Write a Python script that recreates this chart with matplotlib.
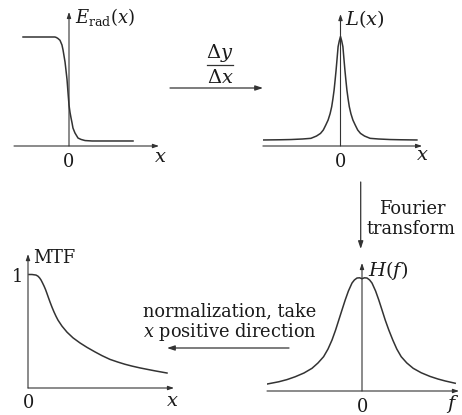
import matplotlib
matplotlib.use('Agg')
import matplotlib.pyplot as plt

plt.rcParams['font.family'] = ['DejaVu Serif']
plt.rcParams['mathtext.fontset'] = 'dejavuserif'

W, H = 462, 415
LINE = '#333333'
TEXT = '#1a1a1a'

# edge response (step)
esf_x = [-2.09, -1.32, -0.64, -0.57, -0.50, -0.41, -0.32, -0.27, -0.18, -0.14, -0.09, -0.045,
         0.0, 0.045, 0.09, 0.14, 0.18, 0.27, 0.41, 0.55, 0.73, 1.05, 2.91]
esf_y = [1.0, 1.0, 1.0, 0.995, 0.986, 0.97, 0.927, 0.88, 0.77, 0.70, 0.61, 0.49,
         0.376, 0.31, 0.26, 0.21, 0.165, 0.12, 0.073, 0.06, 0.05, 0.046, 0.046]

# line spread function
lsf_x = [-1.94, -1.5, -1.24, -0.95, -0.74, -0.60, -0.50, -0.43, -0.37, -0.31, -0.26,
         -0.22, -0.19, -0.16, -0.135, -0.11, -0.085, -0.06, -0.03, 0.0,
         0.03, 0.06, 0.085, 0.11, 0.135, 0.16, 0.19, 0.22, 0.26, 0.31,
         0.37, 0.43, 0.50, 0.60, 0.74, 0.95, 1.24, 1.5, 1.91]
lsf_y = [0.055, 0.057, 0.059, 0.064, 0.07, 0.091, 0.115, 0.146, 0.19, 0.237, 0.295,
         0.359, 0.43, 0.511, 0.60, 0.694, 0.80, 0.907, 0.96, 1.0,
         0.96, 0.907, 0.80, 0.694, 0.60, 0.511, 0.43, 0.359, 0.295, 0.237,
         0.19, 0.146, 0.115, 0.091, 0.07, 0.064, 0.059, 0.057, 0.055]

# transfer function H(f)
hf_x = [-2.375, -2.08, -1.875, -1.67, -1.45, -1.25, -1.10, -0.96, -0.85, -0.75, -0.66,
        -0.58, -0.50, -0.42, -0.34, -0.25, -0.19, -0.125, -0.06, 0.0,
        0.06, 0.125, 0.19, 0.25, 0.34, 0.42, 0.50, 0.58, 0.67, 0.77,
        0.87, 0.98, 1.12, 1.28, 1.48, 1.70, 1.90, 2.08, 2.33]
hf_y = [0.061, 0.081, 0.10, 0.125, 0.158, 0.199, 0.246, 0.301, 0.368, 0.447, 0.535,
        0.623, 0.711, 0.798, 0.877, 0.947, 0.974, 0.991, 0.993, 0.985,
        0.993, 0.991, 0.974, 0.947, 0.877, 0.798, 0.711, 0.623, 0.535, 0.447,
        0.368, 0.301, 0.246, 0.199, 0.16, 0.128, 0.105, 0.088, 0.068]

# normalized MTF, positive side
mtf_x = [0.025, 0.10, 0.20, 0.25, 0.29, 0.325, 0.36, 0.40, 0.44, 0.475, 0.51, 0.55,
         0.60, 0.65, 0.70, 0.75, 0.85, 0.975, 1.125, 1.30, 1.475, 1.675, 1.85,
         2.05, 2.25, 2.425, 2.60, 2.80, 3.00, 3.175, 3.475]
mtf_y = [1.0, 1.0, 0.995, 0.985, 0.97, 0.952, 0.928, 0.899, 0.866, 0.832, 0.797, 0.758,
         0.712, 0.670, 0.632, 0.598, 0.545, 0.492, 0.442, 0.397, 0.358, 0.318, 0.285,
         0.252, 0.228, 0.209, 0.193, 0.177, 0.163, 0.151, 0.132]

fig = plt.figure(figsize=(W / 100, H / 100), dpi=100)
fig.patch.set_facecolor('white')


def panel(ox, oy, sx, sy, xr, yr):
    # ox, oy: pixel position of the origin, sx, sy: pixels per data unit
    x0 = ox + xr[0] * sx
    x1 = ox + xr[1] * sx
    ytop = oy - yr[1] * sy
    ybot = oy - yr[0] * sy
    ax = fig.add_axes([x0 / W, 1 - ybot / H, (x1 - x0) / W, (ybot - ytop) / H])
    ax.set_xlim(xr)
    ax.set_ylim(yr)
    ax.axis('off')
    return ax


def axis_arrows(ax, xr, ytop):
    head = '-|>,head_length=0.35,head_width=0.12'
    ax.annotate('', xy=(xr[1], 0), xytext=(xr[0], 0),
                arrowprops=dict(arrowstyle=head, color=LINE, lw=0.8, shrinkA=0, shrinkB=0))
    ax.annotate('', xy=(0, ytop), xytext=(0, 0),
                arrowprops=dict(arrowstyle=head, color=LINE, lw=0.8, shrinkA=0, shrinkB=0))


# panels
ax1 = panel(69, 146, 22, 109, (-2.5, 4.09), (0, 1.23))
axis_arrows(ax1, (-2.5, 4.09), 1.23)
ax1.plot(esf_x, esf_y, color=LINE, lw=1.1, solid_joinstyle='round')

ax2 = panel(340.5, 146, 40, 109.5, (-1.94, 2.04), (0, 1.205))
axis_arrows(ax2, (-1.94, 2.04), 1.205)
ax2.plot(lsf_x, lsf_y, color=LINE, lw=1.1, solid_joinstyle='round')

ax3 = panel(28, 388, 40, 113.5, (0, 3.65), (0, 1.18))
axis_arrows(ax3, (0, 3.65), 1.18)
ax3.plot(mtf_x, mtf_y, color=LINE, lw=1.1, solid_joinstyle='round')

ax4 = panel(362, 391, 40, 114, (-2.375, 2.425), (0, 1.123))
axis_arrows(ax4, (-2.375, 2.425), 1.123)
ax4.plot(hf_x, hf_y, color=LINE, lw=1.1, solid_joinstyle='round')

# overlay in pixel coordinates for labels and connecting arrows
ov = fig.add_axes([0, 0, 1, 1], facecolor='none')
ov.set_xlim(0, W)
ov.set_ylim(H, 0)
ov.axis('off')

fs = 12.8
ms = 14
ov.text(75, 17, r'$E_{\mathrm{rad}}(x)$', fontsize=13, ha='left', va='center', color=TEXT)
ov.text(69, 162, '0', fontsize=fs, ha='center', va='center', color=TEXT)
ov.text(160, 157, r'$x$', fontsize=ms, ha='center', va='center', color=TEXT)

ov.text(345, 19, r'$L(x)$', fontsize=ms, ha='left', va='center', color=TEXT)
ov.text(340.5, 162, '0', fontsize=fs, ha='center', va='center', color=TEXT)
ov.text(422, 155, r'$x$', fontsize=ms, ha='center', va='center', color=TEXT)

ov.text(368, 270, r'$H(f)$', fontsize=ms, ha='left', va='center', color=TEXT)
ov.text(362, 407, '0', fontsize=fs, ha='center', va='center', color=TEXT)
ov.text(453, 404, r'$f$', fontsize=ms, ha='center', va='center', color=TEXT)

ov.text(33, 258, 'MTF', fontsize=fs, ha='left', va='center', color=TEXT)
ov.text(18, 277, '1', fontsize=fs, ha='center', va='center', color=TEXT)
ov.text(28, 403, '0', fontsize=fs, ha='center', va='center', color=TEXT)
ov.text(172, 401, r'$x$', fontsize=ms, ha='center', va='center', color=TEXT)

# derivative step
ov.text(220, 53, r'$\Delta y$', fontsize=ms, ha='center', va='center', color=TEXT)
ov.plot([207, 233], [65, 65], color=LINE, lw=0.9)
ov.text(220, 78, r'$\Delta x$', fontsize=ms, ha='center', va='center', color=TEXT)
arrow = dict(arrowstyle='-|>,head_length=0.45,head_width=0.15', color=LINE, lw=0.9,
             shrinkA=0, shrinkB=0)
ov.annotate('', xy=(263, 88), xytext=(170, 88), arrowprops=arrow)

# Fourier step
ov.annotate('', xy=(360.7, 249), xytext=(360.7, 182), arrowprops=arrow)
ov.text(412, 209, 'Fourier', fontsize=fs, ha='center', va='center', color=TEXT)
ov.text(411, 229, 'transform', fontsize=fs, ha='center', va='center', color=TEXT)

# normalization step
ov.text(229.5, 311, 'normalization, take', fontsize=fs, ha='center', va='center', color=TEXT)
ov.text(229.5, 332, r'$x$ positive direction', fontsize=fs, ha='center', va='center', color=TEXT)
ov.annotate('', xy=(167, 348), xytext=(289, 348), arrowprops=arrow)

fig.savefig('out.png', dpi=100, facecolor='white')
